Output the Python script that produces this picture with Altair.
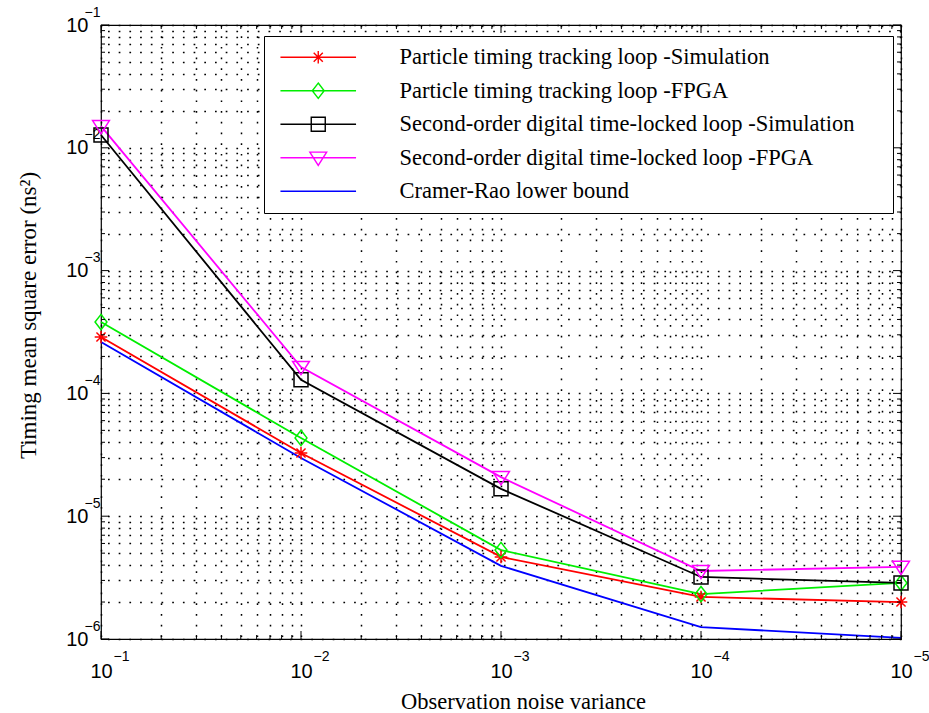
import altair as alt
import pandas as pd

# ---------------- data ----------------
noise_variance = [1e-1, 1e-2, 1e-3, 1e-4, 1e-5]

series_names = [
    "Particle timing tracking loop -Simulation",
    "Particle timing tracking loop -FPGA",
    "Second-order digital time-locked loop -Simulation",
    "Second-order digital time-locked loop -FPGA",
    "Cramer-Rao lower bound",
]
series_colors = ["#ff0000", "#00ee00", "#000000", "#ff00ff", "#0000ff"]

pttl_simulation = [2.88e-4, 3.27e-5, 4.66e-6, 2.20e-6, 2.00e-6]
pttl_fpga = [3.81e-4, 4.34e-5, 5.30e-6, 2.32e-6, 2.86e-6]
sodtll_simulation = [1.27e-2, 1.29e-4, 1.67e-5, 3.20e-6, 2.86e-6]
sodtll_fpga = [1.50e-2, 1.64e-4, 2.08e-5, 3.58e-6, 3.86e-6]
crlb = [2.62e-4, 2.98e-5, 3.94e-6, 1.25e-6, 1.02e-6]

all_series = [pttl_simulation, pttl_fpga, sodtll_simulation, sodtll_fpga, crlb]

x_major = [1e-1, 1e-2, 1e-3, 1e-4, 1e-5]
y_major = [1e-1, 1e-2, 1e-3, 1e-4, 1e-5, 1e-6]

# ---------------- tables ----------------
rows = []
for name, vals in zip(series_names, all_series):
    for v, m in zip(noise_variance, vals):
        rows.append({"variance": v, "mse": m, "series": name})
df = pd.DataFrame(rows)

x_minor = [d / k for d in x_major[:-1] for k in range(2, 10)]
y_minor = [d * k for d in y_major[1:] for k in range(2, 10)]

# ---------------- styling ----------------
W, H = 800, 614
xs = alt.Scale(type="log", domain=[1e-5, 1e-1], reverse=True, nice=False)
ys = alt.Scale(type="log", domain=[1e-6, 1e-1], nice=False)
color_scale = alt.Scale(domain=series_names, range=series_colors)

SANS = "Liberation Sans"
SERIF = "Liberation Serif"

star = "M0,-0.9V0.9M-0.9,0H0.9M-0.65,-0.65L0.65,0.65M-0.65,0.65L0.65,-0.65"
diamond = "M0,-1.1L0.85,0L0,1.1L-0.85,0Z"
square = "M-1,-1H1V1H-1Z"
tri_down = "M-1.2,-0.8H1.2L0,1.1Z"
marker_paths = [star, diamond, square, tri_down]
seg = "M-5.4,0H5.4"
legend_paths = [seg + p for p in marker_paths] + [seg]

pow10 = "abs(log(datum.value)/LN10 - round(log(datum.value)/LN10)) < 0.001"
main_label = f"{pow10} ? '10' : ''"
exp_label = "'\u2212' + (-round(log(datum.value)/LN10))"

x_axis_main = alt.Axis(
    orient="bottom", values=x_major + x_minor, labelExpr=main_label,
    labelFont=SANS, labelFontSize=20, labelColor="black", labelPadding=22,
    labelOverlap=False, labelFlush=False, ticks=False, domain=False,
    grid=True, gridDash=[1.7, 9], gridColor="black", gridWidth=1.5, gridOpacity=1,
    title="Observation noise variance", titleFont=SERIF, titleFontSize=22.5,
    titleFontWeight="normal", titleColor="black", titleX=422, titleY=69,
    titleBaseline="alphabetic", titleAlign="center",
)
y_axis_main = alt.Axis(
    orient="left", values=y_major + y_minor, labelExpr=main_label,
    labelFont=SANS, labelFontSize=20, labelColor="black", labelPadding=13,
    labelOverlap=False, labelFlush=False, ticks=False, domain=False,
    grid=True, gridDash=[1.7, 9], gridColor="black", gridWidth=1.5, gridOpacity=1,
    title="Timing mean square error (ns\u00b2)", titleFont=SERIF, titleFontSize=23,
    titleFontWeight="normal", titleColor="black", titleX=-66, titleY=290,
    titleAngle=270, titleBaseline="alphabetic", titleAlign="center",
)
x_axis_exp = alt.Axis(
    orient="bottom", values=x_major, labelExpr=exp_label,
    labelFont=SANS, labelFontSize=14, labelColor="black", labelPadding=10,
    labelOffset=20, labelOverlap=False, labelFlush=False, ticks=False,
    domain=False, grid=False, title=None,
)
y_axis_exp = alt.Axis(
    orient="left", values=y_major, labelExpr=exp_label,
    labelFont=SANS, labelFontSize=14, labelColor="black", labelPadding=1,
    labelOffset=-13, labelOverlap=False, labelFlush=False, ticks=False,
    domain=False, grid=False, title=None,
)

legend = alt.Legend(
    title=None, orient="none", legendX=163, legendY=11, direction="vertical",
    strokeColor="black", fillColor="white", padding=10,
    labelFont=SERIF, labelFontSize=22.5, labelColor="black", labelLimit=1000,
    labelExpr="datum.label + '\u00a0\u00a0\u2800'",
    labelOffset=70, symbolOffset=33, symbolSize=196, symbolStrokeWidth=1.4,
    symbolOpacity=1, rowPadding=10.5,
)

# ---------------- layers ----------------
line_layers = []
for i, (name, col) in enumerate(zip(series_names, series_colors)):
    line_layers.append(
        alt.Chart(df).transform_filter(alt.datum.series == name)
        .mark_line(strokeWidth=1.8, color=col)
        .encode(
            x=alt.X("variance:Q", scale=xs, axis=x_axis_main if i == 0 else None),
            y=alt.Y("mse:Q", scale=ys, axis=y_axis_main if i == 0 else None),
        )
    )

marker_layers = []
for name, col, path in zip(series_names[:4], series_colors[:4], marker_paths):
    marker_layers.append(
        alt.Chart(df).transform_filter(alt.datum.series == name)
        .mark_point(shape=path, size=196, filled=False, strokeWidth=1.5, color=col, opacity=1)
        .encode(
            x=alt.X("variance:Q", scale=xs, axis=None),
            y=alt.Y("mse:Q", scale=ys, axis=None),
        )
    )

carrier = alt.Chart(df).mark_point(opacity=0, filled=False, size=196, strokeWidth=1.5).encode(
    x=alt.X("variance:Q", scale=xs, axis=x_axis_exp),
    y=alt.Y("mse:Q", scale=ys, axis=y_axis_exp),
    shape=alt.Shape("series:N", scale=alt.Scale(domain=series_names, range=legend_paths), legend=legend),
    color=alt.Color("series:N", scale=color_scale, legend=legend),
)


def x_ticks(values, length, at, offset_sign):
    d = pd.DataFrame({"v": values})
    return alt.Chart(d).mark_rule(color="black", strokeWidth=1, y2Offset=offset_sign * length).encode(
        x=alt.X("v:Q", scale=xs, axis=None),
        y=alt.Y(datum=at, type="quantitative", scale=ys, axis=None),
        y2=alt.Y2(datum=at),
    )


def y_ticks(values, length, at, offset_sign):
    d = pd.DataFrame({"v": values})
    return alt.Chart(d).mark_rule(color="black", strokeWidth=1, x2Offset=offset_sign * length).encode(
        y=alt.Y("v:Q", scale=ys, axis=None),
        x=alt.X(datum=at, type="quantitative", scale=xs, axis=None),
        x2=alt.X2(datum=at),
    )


tick_layers = [
    x_ticks(x_major, 8, 1e-6, -1), x_ticks(x_minor, 4, 1e-6, -1),
    x_ticks(x_major, 8, 1e-1, 1), x_ticks(x_minor, 4, 1e-1, 1),
    y_ticks(y_major, 8, 1e-1, 1), y_ticks(y_minor, 4, 1e-1, 1),
    y_ticks(y_major, 8, 1e-5, -1), y_ticks(y_minor, 4, 1e-5, -1),
]

chart = alt.layer(*line_layers, *marker_layers, carrier, *tick_layers).resolve_axis(
    x="independent", y="independent"
).properties(
    width=W, height=H,
    autosize=alt.AutoSizeParams(type="none"),
    padding={"left": 101, "top": 25, "right": 28, "bottom": 74},
    background="white",
).configure_view(stroke="black", strokeWidth=1.2)

chart.save("out.html", embed_options={"renderer": "svg", "actions": False})
